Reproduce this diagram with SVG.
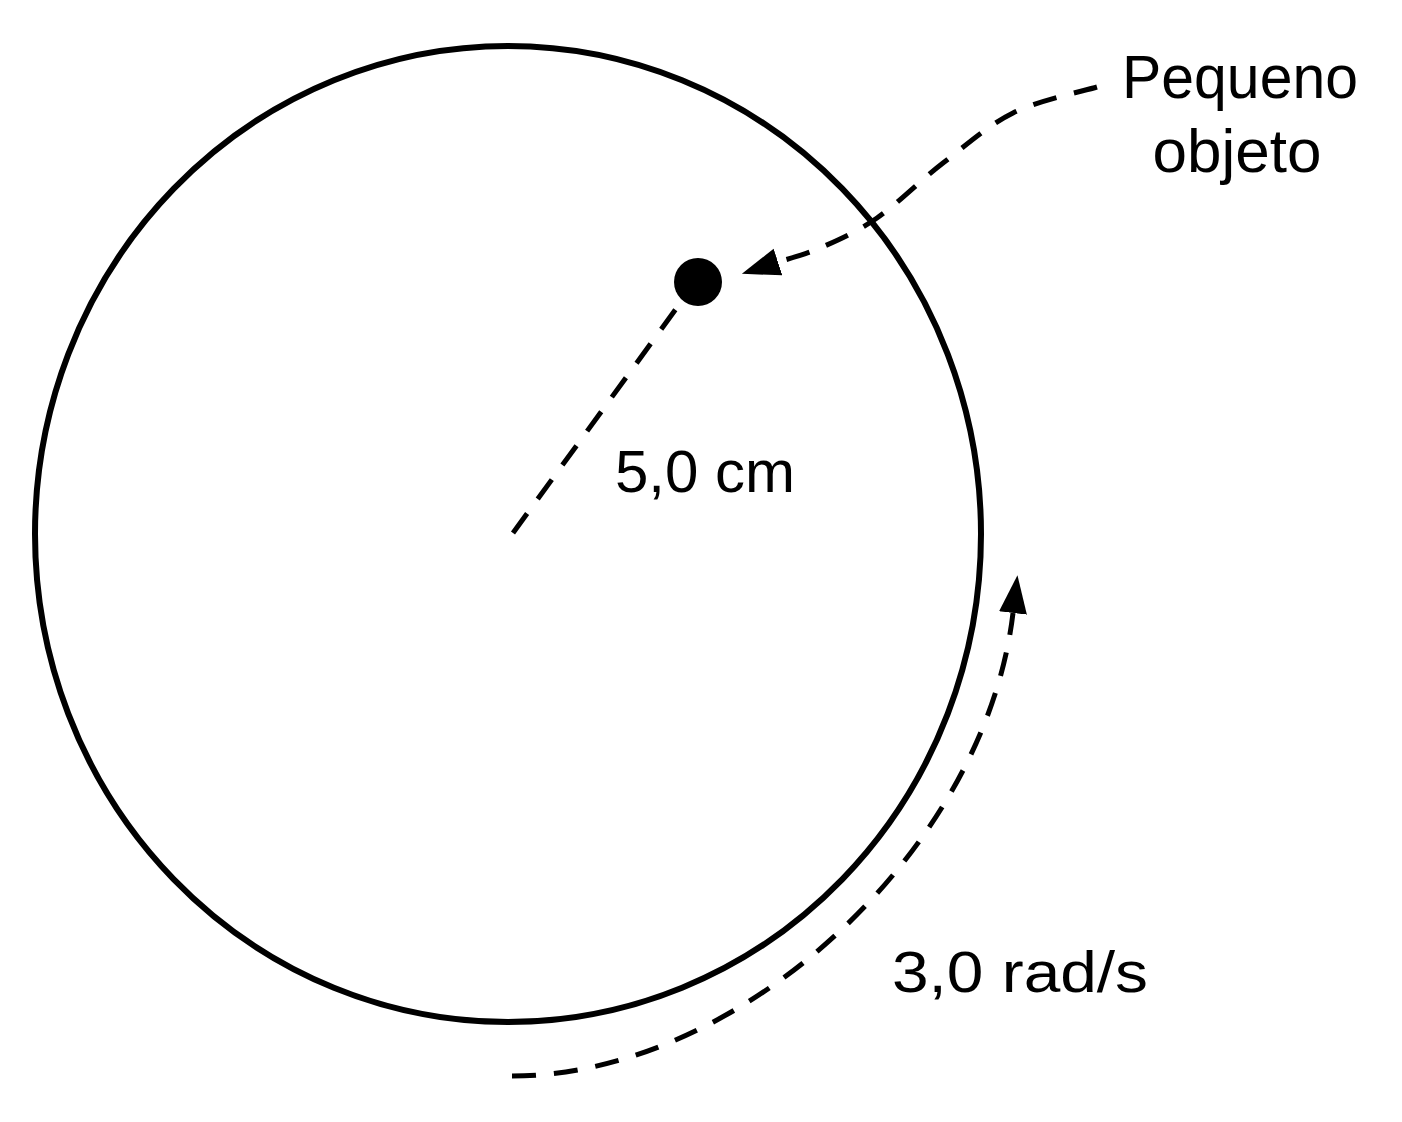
<svg xmlns="http://www.w3.org/2000/svg" width="1402" height="1122" viewBox="0 0 1402 1122">
<style>
.label{font-family:"Liberation Sans",Arial,sans-serif;fill:#000;}
.dash{fill:none;stroke:#000;stroke-width:5;stroke-dasharray:24 18;}
</style>
<defs>
<marker id="arrow" markerUnits="userSpaceOnUse" markerWidth="40" markerHeight="30" refX="0" refY="14" orient="auto" viewBox="0 0 40 28">
<path d="M0,0 L38,14 L0,28 Z" fill="#000"/>
</marker>
</defs>
<rect width="1402" height="1122" fill="#fff"/>
<g id="disc">
<ellipse cx="508" cy="534" rx="473" ry="488" fill="none" stroke="#000" stroke-width="6"/>
</g>
<g id="object">
<circle cx="698" cy="282" r="24" fill="#000"/>
</g>
<g id="connectors">
<path class="dash" d="M513,533 L681,302"/>
<path class="dash" d="M1097,87 C1083,91.3 1038.7,100.3 1013,113 C987.3,125.7 965.7,145.5 943,163 C920.3,180.5 897.5,203.8 877,218 C856.5,232.2 836.5,240.7 820,248 C803.5,255.3 785,259.7 778,262" marker-end="url(#arrow)"/>
<path class="dash" d="M512,1076 C740,1076 985,850 1013,613" marker-end="url(#arrow)"/>
</g>
<g id="label-object">
<text class="label" x="1240" y="98" font-size="62" text-anchor="middle" textLength="236" lengthAdjust="spacingAndGlyphs">Pequeno</text>
<text class="label" x="1237" y="172" font-size="62" text-anchor="middle">objeto</text>
</g>
<g id="label-radius">
<text class="label" x="615" y="492" font-size="60" textLength="180" lengthAdjust="spacingAndGlyphs">5,0 cm</text>
</g>
<g id="label-omega">
<text class="label" x="892" y="992" font-size="57" textLength="256" lengthAdjust="spacingAndGlyphs">3,0 rad/s</text>
</g>
</svg>
